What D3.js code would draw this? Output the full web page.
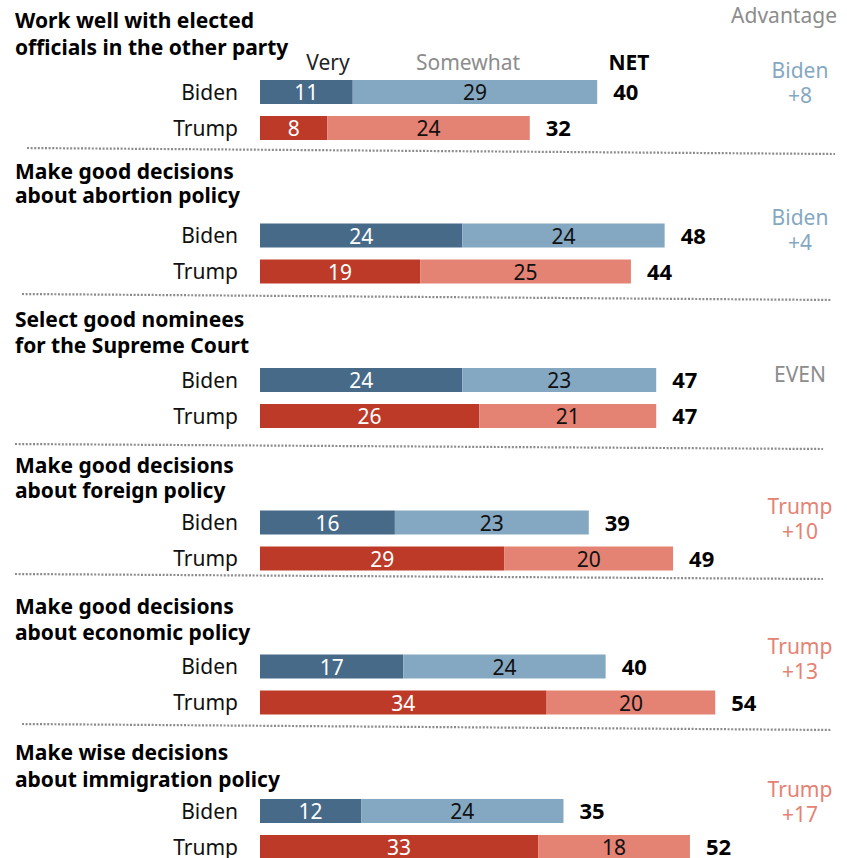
<!DOCTYPE html>
<html>
<head>
<meta charset="utf-8">
<script src="https://cdn.jsdelivr.net/npm/d3@7"></script>
<style>
  html, body { margin: 0; padding: 0; background: #fff; }
  svg { display: block; }
  text { font-family: "Noto Sans", "Liberation Sans", sans-serif; }
</style>
</head>
<body>
<div id="chart"></div>
<script>
// Questions (two lines each)
const questions = [
  ["Work well with elected", "officials in the other party"],
  ["Make good decisions", "about abortion policy"],
  ["Select good nominees", "for the Supreme Court"],
  ["Make good decisions", "about foreign policy"],
  ["Make good decisions", "about economic policy"],
  ["Make wise decisions", "about immigration policy"]
];
const candidates = ["Biden", "Trump"];
const bidenVery     = [11, 24, 24, 16, 17, 12];
const bidenSomewhat = [29, 24, 23, 23, 24, 24];
const bidenNet      = [40, 48, 47, 39, 40, 35];
const trumpVery     = [8, 19, 26, 29, 34, 33];
const trumpSomewhat = [24, 25, 21, 20, 20, 18];
const trumpNet      = [32, 44, 47, 49, 54, 52];
const advantageWho  = ["Biden", "Biden", "EVEN", "Trump", "Trump", "Trump"];
const advantageBy   = ["+8", "+4", "", "+10", "+13", "+17"];
const headerLabels  = ["Very", "Somewhat", "NET"];

// Layout
const W = 847, H = 858;
const barH = 24;
const rowGap = 36;
const sectionY = [92, 235.5, 380, 522.5, 666.5, 811];           // Biden bar centres
const titleBaselines = [[28, 55], [179, 203], [327, 353], [473, 498], [614, 640], [760, 787]];
const advBaselines = [78, 225, 382, 514, 654, 797];
const separators = [[27, 148, 835, 154], [22, 294, 832, 300], [15, 444, 823, 449], [15, 574, 823, 579], [22, 724, 832, 730]];

const colors = {
  Biden: { very: "#466a88", somewhat: "#85a8c2" },
  Trump: { very: "#be3a28", somewhat: "#e48274" }
};
const gray = "#8c8c8c";

const x = d3.scaleLinear().domain([0, 100]).range([260, 1103]);

const svg = d3.select("#chart").append("svg")
  .attr("width", W).attr("height", H);

// Rows built from the arrays
const rows = [];
questions.forEach((q, i) => {
  rows.push({ sec: i, who: candidates[0], very: bidenVery[i], somewhat: bidenSomewhat[i], net: bidenNet[i], y: sectionY[i] });
  rows.push({ sec: i, who: candidates[1], very: trumpVery[i], somewhat: trumpSomewhat[i], net: trumpNet[i], y: sectionY[i] + rowGap });
});

// Section titles
const titles = svg.append("g");
questions.forEach((q, i) => {
  q.forEach((line, j) => {
    titles.append("text")
      .attr("x", 15).attr("y", titleBaselines[i][j])
      .attr("font-size", 21).attr("font-weight", 700).attr("fill", "#000")
      .text(line);
  });
});

// Column headers
const hdr = svg.append("g");
hdr.append("text").attr("x", 328).attr("y", 70)
  .attr("text-anchor", "middle").attr("font-size", 21).attr("fill", "#222").text(headerLabels[0]);
hdr.append("text").attr("x", 468).attr("y", 70)
  .attr("text-anchor", "middle").attr("font-size", 21).attr("fill", gray).text(headerLabels[1]);
hdr.append("text").attr("x", 629).attr("y", 70)
  .attr("text-anchor", "middle").attr("font-size", 21).attr("font-weight", 700).attr("fill", "#000").text(headerLabels[2]);
hdr.append("text").attr("x", 837).attr("y", 23)
  .attr("text-anchor", "end").attr("font-size", 21).attr("fill", gray).text("Advantage");

// Bars
const rowG = svg.append("g").selectAll("g").data(rows).join("g");

rowG.append("text")
  .attr("x", 238).attr("y", d => d.y + 7.5)
  .attr("text-anchor", "end").attr("font-size", 21).attr("fill", "#111")
  .text(d => d.who);

rowG.append("rect")
  .attr("x", x(0)).attr("y", d => d.y - barH / 2)
  .attr("width", d => x(d.very) - x(0)).attr("height", barH)
  .attr("fill", d => colors[d.who].very);

rowG.append("rect")
  .attr("x", d => x(d.very)).attr("y", d => d.y - barH / 2)
  .attr("width", d => x(d.very + d.somewhat) - x(d.very)).attr("height", barH)
  .attr("fill", d => colors[d.who].somewhat);

rowG.append("text")
  .attr("x", d => x(d.very / 2)).attr("y", d => d.y + 8)
  .attr("text-anchor", "middle").attr("font-size", 21).attr("fill", "#fff")
  .text(d => d.very);

rowG.append("text")
  .attr("x", d => x(d.very + d.somewhat / 2)).attr("y", d => d.y + 8)
  .attr("text-anchor", "middle").attr("font-size", 21).attr("fill", "#111")
  .text(d => d.somewhat);

rowG.append("text")
  .attr("x", d => x(d.very + d.somewhat) + 16).attr("y", d => d.y + 8)
  .attr("font-size", 22).attr("font-weight", 700).attr("fill", "#000")
  .text(d => d.net);

// Advantage column
const adv = svg.append("g");
advantageWho.forEach((who, i) => {
  const fill = who === "Biden" ? colors.Biden.somewhat : who === "Trump" ? colors.Trump.somewhat : gray;
  adv.append("text").attr("x", 800).attr("y", advBaselines[i])
    .attr("text-anchor", "middle").attr("font-size", 21).attr("fill", fill).text(who);
  if (advantageBy[i]) {
    adv.append("text").attr("x", 800).attr("y", advBaselines[i] + 25)
      .attr("text-anchor", "middle").attr("font-size", 21).attr("fill", fill).text(advantageBy[i]);
  }
});

// Dotted separators
svg.append("g").selectAll("line").data(separators).join("line")
  .attr("x1", d => d[0]).attr("y1", d => d[1])
  .attr("x2", d => d[2]).attr("y2", d => d[3])
  .attr("stroke", gray).attr("stroke-width", 2.2).attr("stroke-dasharray", "2,1.6");
</script>
</body>
</html>
